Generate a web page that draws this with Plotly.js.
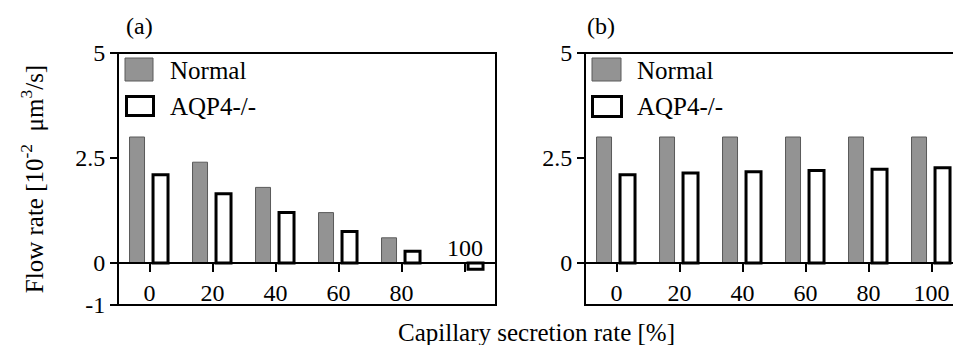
<!DOCTYPE html>
<html>
<head>
<meta charset="utf-8">
<script src="https://cdn.plot.ly/plotly-3.0.1.min.js"></script>
<style>html,body{margin:0;padding:0;background:#fff;}</style>
</head>
<body>
<div id="chart" style="width:953px;height:345px;"></div>
<script>
// Data
var categories = ['0', '20', '40', '60', '80', '100'];
var tickLabelsA = ['0', '20', '40', '60', '80', ' '];
var tickLabelsB = ['0', '20', '40', '60', '80', '100'];
var normalA = [3.0, 2.4, 1.8, 1.2, 0.6, 0.0];
var aqp4A = [2.1, 1.65, 1.2, 0.75, 0.28, -0.15];
var normalB = [3.0, 3.0, 3.0, 3.0, 3.0, 3.0];
var aqp4B = [2.1, 2.14, 2.17, 2.2, 2.23, 2.27];
var yTickValsA = [-1, 0, 2.5, 5];
var yTickTextA = ['-1', '0', '2.5', '5'];
var yTickValsB = [0, 2.5, 5];
var yTickTextB = ['0', '2.5', '5'];

var FONT = '"Liberation Serif", "Times New Roman", serif';
var W = 953, H = 345;
var L = 118, R = 0, T = 53, B = 40;
var PW = W - L - R, PH = H - T - B;
function px(x) { return (x - L) / PW; }
function py(y) { return (H - B - y) / PH; }

var barW = 0.238;
var grayStyle = {color: '#939393', line: {color: '#5a5a5a', width: 1}};
var whiteStyle = {color: '#ffffff', line: {color: '#000000', width: 3}};

var traces = [
  {type: 'bar', x: categories, y: normalA, name: 'Normal', xaxis: 'x', yaxis: 'y',
   width: barW, offset: -0.317, marker: grayStyle, showlegend: false},
  {type: 'bar', x: categories, y: aqp4A, name: 'AQP4-/-', xaxis: 'x', yaxis: 'y',
   width: barW, offset: 0.056, marker: whiteStyle, showlegend: false},
  {type: 'bar', x: categories, y: normalB, name: 'Normal', xaxis: 'x2', yaxis: 'y2',
   width: barW, offset: -0.317, marker: grayStyle, showlegend: false},
  {type: 'bar', x: categories, y: aqp4B, name: 'AQP4-/-', xaxis: 'x2', yaxis: 'y2',
   width: barW, offset: 0.056, marker: whiteStyle, showlegend: false}
];

var xA0 = 0, xA1 = px(496), xB0 = px(585), xB1 = 1;
var zeroPos = 1 / 6;

var tickFont = {family: FONT, size: 24, color: '#000'};
var textFont = {family: FONT, size: 25, color: '#000'};

var xCommon = {
  type: 'category', anchor: 'free', position: zeroPos,
  showline: true, linecolor: '#000', linewidth: 2,
  ticks: 'outside', ticklen: 8, tickwidth: 2, tickcolor: '#000',
  tickmode: 'array', tickvals: categories,
  tickfont: tickFont, showgrid: false, zeroline: false, fixedrange: true
};
var yCommon = {
  range: [-1, 5], domain: [0, 1], showline: false, showgrid: false, zeroline: false,
  ticks: 'outside', ticklen: 7, tickwidth: 1.5, tickcolor: '#000',
  tickmode: 'array', tickfont: tickFont, fixedrange: true
};

var layout = {
  width: W, height: H,
  margin: {l: L, r: R, t: T, b: B},
  paper_bgcolor: '#fff', plot_bgcolor: 'rgba(0,0,0,0)',
  font: {family: FONT, color: '#000'},
  barmode: 'overlay',
  showlegend: false,
  xaxis: Object.assign({}, xCommon, {domain: [xA0, xA1], range: [-0.5, 5.5], ticktext: tickLabelsA}),
  xaxis2: Object.assign({}, xCommon, {domain: [xB0, xB1], range: [-0.5, -0.5 + (W - 585) / 63], ticktext: tickLabelsB}),
  yaxis: Object.assign({}, yCommon, {anchor: 'x', tickvals: yTickValsA, ticktext: yTickTextA,
    title: {text: 'Flow rate [10<sup>-2</sup>&nbsp; μm<sup>3</sup>/s]', font: {family: FONT, size: 25, color: '#000'}, standoff: 24}}),
  yaxis2: Object.assign({}, yCommon, {anchor: 'x2', tickvals: yTickValsB, ticktext: yTickTextB}),
  shapes: [
    {type: 'rect', xref: 'paper', yref: 'paper', x0: xA0, x1: xA1, y0: 0, y1: 1,
     line: {color: '#000', width: 2}, fillcolor: 'rgba(0,0,0,0)', layer: 'above'},
    {type: 'path', xref: 'paper', yref: 'paper',
     path: 'M 1.02 0 L ' + xB0 + ' 0 L ' + xB0 + ' 1 L 1.02 1',
     line: {color: '#000', width: 2}, layer: 'above'},
    // legend swatches panel a
    {type: 'rect', xref: 'paper', yref: 'paper', x0: px(125), x1: px(153), y0: py(81), y1: py(58),
     fillcolor: '#939393', line: {color: '#5a5a5a', width: 1}},
    {type: 'rect', xref: 'paper', yref: 'paper', x0: px(126.5), x1: px(153.5), y0: py(115.5), y1: py(96.5),
     fillcolor: '#fff', line: {color: '#000', width: 3}},
    // legend swatches panel b
    {type: 'rect', xref: 'paper', yref: 'paper', x0: px(592), x1: px(621), y0: py(81), y1: py(58),
     fillcolor: '#939393', line: {color: '#5a5a5a', width: 1}},
    {type: 'rect', xref: 'paper', yref: 'paper', x0: px(592.5), x1: px(621.5), y0: py(116.5), y1: py(96.5),
     fillcolor: '#fff', line: {color: '#000', width: 3}}
  ],
  annotations: [
    {text: 'Normal', xref: 'paper', yref: 'paper', x: px(168), y: py(70), xanchor: 'left', yanchor: 'middle',
     showarrow: false, font: textFont},
    {text: 'AQP4-/-', xref: 'paper', yref: 'paper', x: px(168), y: py(106), xanchor: 'left', yanchor: 'middle',
     showarrow: false, font: textFont},
    {text: 'Normal', xref: 'paper', yref: 'paper', x: px(635), y: py(70), xanchor: 'left', yanchor: 'middle',
     showarrow: false, font: textFont},
    {text: 'AQP4-/-', xref: 'paper', yref: 'paper', x: px(635), y: py(106), xanchor: 'left', yanchor: 'middle',
     showarrow: false, font: textFont},
    {text: tickLabelsB[5], xref: 'x', yref: 'y', x: categories.indexOf('100'), y: 0, xanchor: 'center', yanchor: 'bottom', yshift: 0,
     showarrow: false, font: tickFont},
    {text: '(a)', xref: 'paper', yref: 'paper', x: px(139), y: py(26), xanchor: 'center', yanchor: 'middle',
     showarrow: false, font: tickFont},
    {text: '(b)', xref: 'paper', yref: 'paper', x: px(601), y: py(26), xanchor: 'center', yanchor: 'middle',
     showarrow: false, font: tickFont},
    {text: 'Capillary secretion rate [%]', xref: 'paper', yref: 'paper', x: px(536), y: py(332),
     xanchor: 'center', yanchor: 'middle', showarrow: false, font: textFont}
  ]
};

Plotly.newPlot('chart', traces, layout, {staticPlot: true, displayModeBar: false});
</script>
</body>
</html>
